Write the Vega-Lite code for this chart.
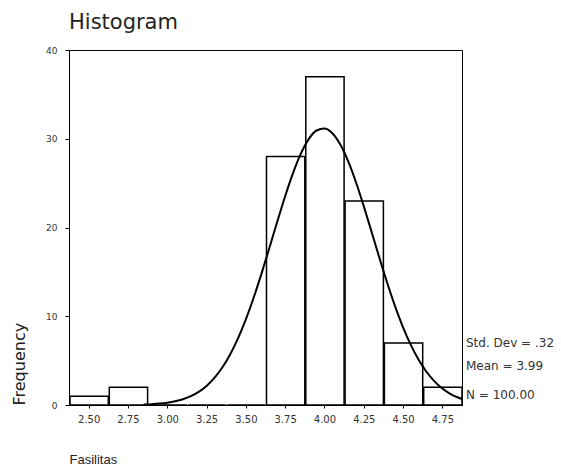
{
  "$schema": "https://vega.github.io/schema/vega-lite/v6.json",
  "width": 393,
  "height": 355,
  "autosize": {"type": "none"},
  "padding": {"left": 69, "top": 50, "right": 99, "bottom": 69},
  "background": "white",
  "config": {
    "font": "DejaVu Sans",
    "view": {"stroke": "#000", "strokeWidth": 1},
    "axis": {"grid": false, "domainColor": "#000", "tickColor": "#000", "labelColor": "#333", "titleColor": "#222", "labelFont": "DejaVu Sans", "titleFont": "DejaVu Sans", "titleFontWeight": "normal"}
  },
  "title": {"text": "Histogram", "anchor": "start", "frame": "group", "fontSize": 21, "fontWeight": "normal", "color": "#222", "offset": 13, "font": "DejaVu Sans"},
  "datasets": {
    "bins": [
      {"bin_start": 2.375, "bin_end": 2.625, "Frequency": 1},
      {"bin_start": 2.625, "bin_end": 2.875, "Frequency": 2},
      {"bin_start": 2.875, "bin_end": 3.125, "Frequency": 0},
      {"bin_start": 3.125, "bin_end": 3.375, "Frequency": 0},
      {"bin_start": 3.375, "bin_end": 3.625, "Frequency": 0},
      {"bin_start": 3.625, "bin_end": 3.875, "Frequency": 28},
      {"bin_start": 3.875, "bin_end": 4.125, "Frequency": 37},
      {"bin_start": 4.125, "bin_end": 4.375, "Frequency": 23},
      {"bin_start": 4.375, "bin_end": 4.625, "Frequency": 7},
      {"bin_start": 4.625, "bin_end": 4.875, "Frequency": 2}
    ],
    "curve": [
      {"x": 2.85, "y": 0.055}, {"x": 2.9, "y": 0.094}, {"x": 2.95, "y": 0.158}, {"x": 3.0, "y": 0.26},
      {"x": 3.05, "y": 0.417}, {"x": 3.1, "y": 0.652}, {"x": 3.15, "y": 0.994}, {"x": 3.2, "y": 1.48},
      {"x": 3.25, "y": 2.15}, {"x": 3.3, "y": 3.049}, {"x": 3.35, "y": 4.218}, {"x": 3.4, "y": 5.695},
      {"x": 3.45, "y": 7.505}, {"x": 3.5, "y": 9.651}, {"x": 3.55, "y": 12.112}, {"x": 3.6, "y": 14.832},
      {"x": 3.65, "y": 17.725}, {"x": 3.7, "y": 20.674}, {"x": 3.75, "y": 23.528}, {"x": 3.8, "y": 26.133},
      {"x": 3.85, "y": 28.325}, {"x": 3.9, "y": 29.961}, {"x": 3.95, "y": 30.928}, {"x": 4.0, "y": 31.155},
      {"x": 4.05, "y": 30.627}, {"x": 4.1, "y": 29.382}, {"x": 4.15, "y": 27.508}, {"x": 4.2, "y": 25.131},
      {"x": 4.25, "y": 22.407}, {"x": 4.3, "y": 19.497}, {"x": 4.35, "y": 16.554}, {"x": 4.4, "y": 13.717},
      {"x": 4.45, "y": 11.093}, {"x": 4.5, "y": 8.753}, {"x": 4.55, "y": 6.741}, {"x": 4.6, "y": 5.066},
      {"x": 4.65, "y": 3.716}, {"x": 4.7, "y": 2.66}, {"x": 4.75, "y": 1.857}, {"x": 4.8, "y": 1.266},
      {"x": 4.85, "y": 0.842}, {"x": 4.875, "y": 0.68}
    ],
    "stats": [
      {"label": "Std. Dev = .32", "x": 4.875, "y": 7.0},
      {"label": "Mean = 3.99", "x": 4.875, "y": 4.4},
      {"label": "N = 100.00", "x": 4.875, "y": 1.1}
    ]
  },
  "layer": [
    {
      "data": {"name": "bins"},
      "mark": {"type": "bar", "fill": "white", "stroke": "#000", "strokeWidth": 1.5},
      "encoding": {
        "x": {"field": "bin_start", "type": "quantitative", "bin": {"binned": true, "step": 0.25},
              "scale": {"domain": [2.375, 4.875], "nice": false, "zero": false},
              "axis": {"title": "Fasilitas", "values": [2.5, 2.75, 3.0, 3.25, 3.5, 3.75, 4.0, 4.25, 4.5, 4.75], "format": ".2f", "labelFontSize": 10, "tickSize": 3, "labelPadding": 6, "titleAnchor": "start", "titleFontSize": 13, "titlePadding": 29, "labelFlush": false, "titleFont": "Liberation Sans"}},
        "x2": {"field": "bin_end"},
        "y": {"field": "Frequency", "type": "quantitative",
              "scale": {"domain": [0, 40], "nice": false},
              "axis": {"title": "Frequency", "values": [0, 10, 20, 30, 40], "labelFontSize": 9, "tickSize": 4, "labelPadding": 8, "titleAnchor": "start", "titleFontSize": 16, "titlePadding": 18}}
      }
    },
    {
      "data": {"name": "curve"},
      "mark": {"type": "line", "color": "#000", "strokeWidth": 2, "interpolate": "monotone"},
      "encoding": {
        "x": {"field": "x", "type": "quantitative"},
        "y": {"field": "y", "type": "quantitative"}
      }
    },
    {
      "data": {"name": "stats"},
      "mark": {"type": "text", "align": "left", "baseline": "middle", "dx": 4, "fontSize": 12, "color": "#333", "font": "DejaVu Sans"},
      "encoding": {
        "x": {"field": "x", "type": "quantitative"},
        "y": {"field": "y", "type": "quantitative"},
        "text": {"field": "label"}
      }
    }
  ]
}
